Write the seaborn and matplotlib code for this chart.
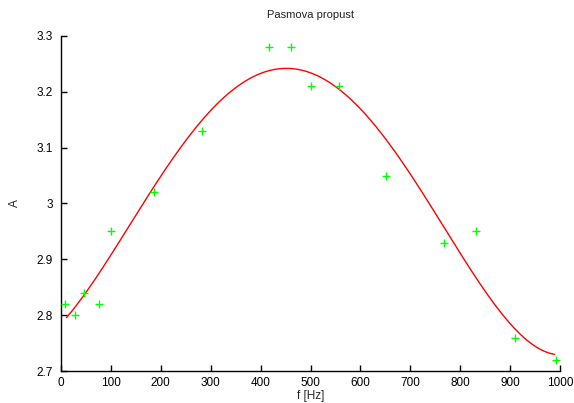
import numpy as np
import pandas as pd
import matplotlib
matplotlib.use("Agg")
import matplotlib.pyplot as plt
import matplotlib.ticker as mticker
import seaborn as sns

# measured points
freq = [8, 28, 47, 77, 100, 186, 282, 416, 460, 500, 557, 651, 767, 832, 909, 991]
amp = [2.82, 2.80, 2.84, 2.82, 2.95, 3.02, 3.13, 3.28, 3.28, 3.21, 3.21, 3.05, 2.93, 2.95, 2.76, 2.72]

# fit range of the curve
fit_range = [11, 989]
fit_degree = 4

sns.set_theme(style="white")
plt.rcParams['font.family'] = ['Liberation Sans', 'DejaVu Sans']

fig = plt.figure(figsize=(5.74, 4.03), dpi=100)
ax = fig.add_axes([0.1063, 0.0794, 0.8693, 0.8313])

df = pd.DataFrame({"f": freq, "A": amp})

# least-squares polynomial fit of the measured points
coef = np.polyfit(freq, amp, fit_degree)
xs = np.linspace(fit_range[0], fit_range[1], 400)
sns.lineplot(x=xs, y=np.polyval(coef, xs), ax=ax, color="#ff0000", lw=1)

sns.scatterplot(data=df, x="f", y="A", ax=ax, marker="+", color="#00ff00", s=32, linewidth=1.0, zorder=3)

ax.set_xlim(0, 1000)
ax.set_ylim(2.7, 3.3)
ax.set_xticks(range(0, 1001, 100))
ax.set_yticks([2.7, 2.8, 2.9, 3.0, 3.1, 3.2, 3.3])
ax.yaxis.set_major_formatter(mticker.FormatStrFormatter('%g'))
for s in ["top", "right"]:
    ax.spines[s].set_visible(False)
for s in ["left", "bottom"]:
    ax.spines[s].set_color("black")
    ax.spines[s].set_linewidth(1)
ax.tick_params(direction="in", length=4, width=1, colors="black", labelsize=8.5, pad=4,
               bottom=True, left=True)
ax.tick_params(axis="y", pad=6)
ax.set_title("Pasmova propust", fontsize=8, pad=13, color="#222222")
ax.set_xlabel("f [Hz]", fontsize=8.5, labelpad=1)
ax.set_ylabel("A", fontsize=8.5, labelpad=11)

fig.savefig("out.png", dpi=100)
